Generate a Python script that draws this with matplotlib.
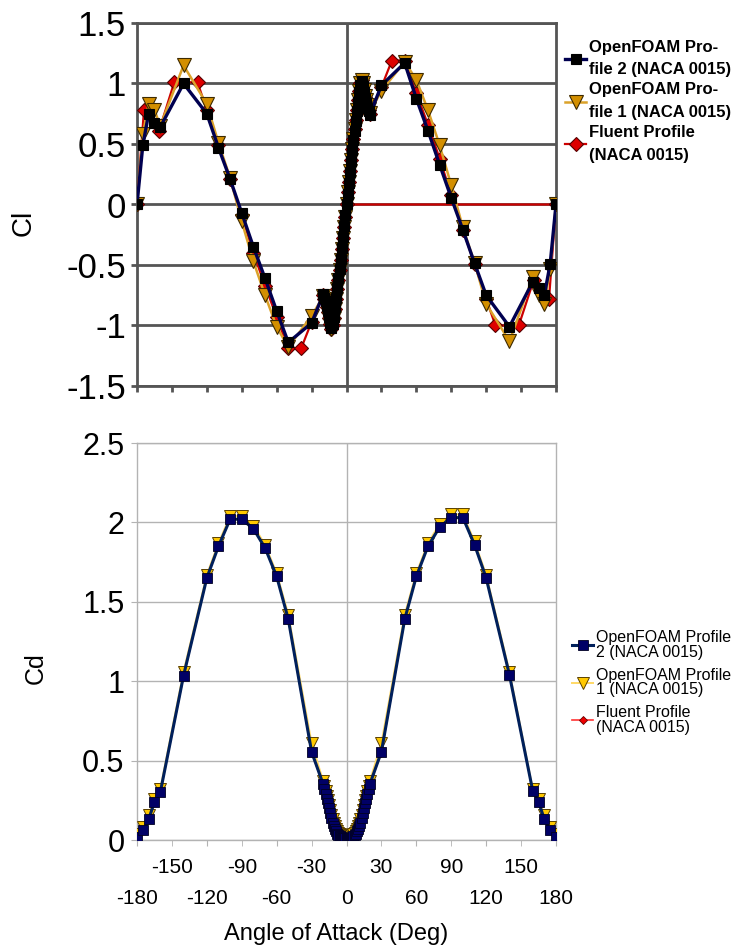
import numpy as np
import matplotlib.pyplot as plt

plt.rcParams['font.family'] = ['Liberation Sans', 'DejaVu Sans']
plt.rcParams['axes.unicode_minus'] = False

# Угол атаки (град) для профилей OpenFOAM
aoa_foam = [-180, -175, -170, -165, -160, -140, -120, -110, -100, -90, -80, -70, -60, -50, -30,
            -20, -19, -18, -17, -16, -15, -14, -13, -12, -11, -10, -9, -8, -7, -6, -5, -4, -3, -2, -1,
            0, 1, 2, 3, 4, 5, 6, 7, 8, 9, 10, 11, 12, 13, 14, 15, 16, 17, 18, 19, 20,
            30, 50, 60, 70, 80, 90, 100, 110, 120, 140, 160, 165, 170, 175, 180]

# Угол атаки для Fluent (последняя точка 0 дает горизонтальную линию)
aoa_fluent = [-180, -174, -161, -148, -128, -120, -110, -100, -90, -80, -70, -60, -50, -39, -30,
              -20, -19, -18, -17, -16, -15, -14, -13, -12, -11, -10, -9, -8, -7, -6, -5, -4, -3, -2, -1,
              0, 1, 2, 3, 4, 5, 6, 7, 8, 9, 10, 11, 12, 13, 14, 15, 16, 17, 18, 19, 20,
              30, 39, 50, 60, 70, 80, 90, 100, 110, 120, 128, 148, 161, 174, 180, 0]

cl_p2 = [0.0, 0.49, 0.75, 0.67, 0.64, 1.0, 0.75, 0.47, 0.21, -0.07, -0.35, -0.61, -0.88, -1.14, -0.98,
         -0.74, -0.77, -0.80, -0.84, -0.88, -0.93, -0.98, -1.02, -0.99, -0.93, -0.85, -0.77, -0.69,
         -0.61, -0.53, -0.45, -0.36, -0.27, -0.18, -0.09,
         0.0, 0.09, 0.18, 0.27, 0.36, 0.45, 0.53, 0.61, 0.69, 0.77, 0.85, 0.93, 0.99, 1.02, 0.98,
         0.93, 0.88, 0.84, 0.80, 0.77, 0.74,
         0.985, 1.17, 0.875, 0.61, 0.33, 0.055, -0.21, -0.485, -0.75, -1.01, -0.64, -0.69, -0.75, -0.49, 0.0]

cl_p1 = [0.0, 0.58, 0.83, 0.78, 0.65, 1.15, 0.83, 0.51, 0.22, -0.14, -0.47, -0.75, -1.01, -1.18, -0.92,
         -0.76, -0.79, -0.82, -0.86, -0.90, -0.95, -1.0, -1.03, -1.0, -0.94, -0.86, -0.78, -0.70,
         -0.62, -0.54, -0.46, -0.37, -0.28, -0.19, -0.10,
         0.0, 0.10, 0.19, 0.28, 0.37, 0.46, 0.54, 0.62, 0.70, 0.78, 0.86, 0.94, 1.0, 1.03, 1.0,
         0.95, 0.90, 0.86, 0.82, 0.79, 0.76,
         0.94, 1.18, 1.03, 0.78, 0.49, 0.16, -0.19, -0.48, -0.82, -1.13, -0.60, -0.745, -0.82, -0.53, 0.0]

cl_fluent = [0.0, 0.78, 0.61, 1.01, 1.01, 0.78, 0.49, 0.21, -0.09, -0.40, -0.67, -0.93, -1.19, -1.19, -0.97,
             -0.75, -0.78, -0.81, -0.85, -0.89, -0.94, -0.99, -1.03, -1.0, -0.94, -0.86, -0.78, -0.70,
             -0.62, -0.54, -0.46, -0.37, -0.28, -0.19, -0.10,
             0.0, 0.10, 0.19, 0.28, 0.37, 0.46, 0.54, 0.62, 0.70, 0.78, 0.86, 0.94, 1.0, 1.03, 0.99,
             0.94, 0.89, 0.85, 0.81, 0.78, 0.75,
             0.97, 1.19, 1.19, 0.92, 0.66, 0.38, 0.08, -0.21, -0.49, -0.78, -1.0, -1.0, -0.62, -0.78, 0.0, 0.0]

cd_p2 = [0.02, 0.06, 0.13, 0.24, 0.30, 1.035, 1.65, 1.85, 2.02, 2.02, 1.96, 1.84, 1.66, 1.39, 0.556,
         0.35, 0.32, 0.29, 0.26, 0.23, 0.20, 0.17, 0.14, 0.11, 0.09, 0.07, 0.055, 0.04, 0.03, 0.024,
         0.019, 0.015, 0.013, 0.011, 0.01,
         0.01, 0.01, 0.011, 0.013, 0.015, 0.019, 0.024, 0.03, 0.04, 0.055, 0.07, 0.09, 0.11, 0.14,
         0.17, 0.20, 0.23, 0.26, 0.29, 0.32, 0.35,
         0.556, 1.39, 1.66, 1.85, 1.97, 2.03, 2.03, 1.86, 1.65, 1.04, 0.31, 0.24, 0.13, 0.06, 0.02]

cd_p1 = [0.04, 0.08, 0.16, 0.26, 0.32, 1.06, 1.67, 1.87, 2.04, 2.04, 1.98, 1.86, 1.68, 1.42, 0.61,
         0.37, 0.34, 0.31, 0.28, 0.25, 0.22, 0.19, 0.16, 0.13, 0.11, 0.09, 0.07, 0.055, 0.045, 0.035,
         0.03, 0.025, 0.022, 0.02, 0.02,
         0.02, 0.02, 0.02, 0.022, 0.025, 0.03, 0.035, 0.045, 0.055, 0.07, 0.09, 0.11, 0.13, 0.16,
         0.19, 0.22, 0.25, 0.28, 0.31, 0.34, 0.37,
         0.61, 1.42, 1.68, 1.87, 1.99, 2.05, 2.05, 1.88, 1.67, 1.06, 0.32, 0.26, 0.16, 0.08, 0.04]

cd_fluent = [0.02, 0.06, 0.13, 0.24, 0.30, 1.03, 1.65, 1.85, 2.02, 2.02, 1.96, 1.84, 1.66, 1.39, 0.55,
             0.35, 0.32, 0.29, 0.26, 0.23, 0.20, 0.17, 0.14, 0.11, 0.09, 0.07, 0.055, 0.04, 0.03, 0.024,
             0.019, 0.015, 0.013, 0.011, 0.01,
             0.01, 0.01, 0.011, 0.013, 0.015, 0.019, 0.024, 0.03, 0.04, 0.055, 0.07, 0.09, 0.11, 0.14,
             0.17, 0.20, 0.23, 0.26, 0.29, 0.32, 0.35,
             0.55, 1.39, 1.66, 1.85, 1.97, 2.03, 2.03, 1.86, 1.65, 1.04, 0.31, 0.24, 0.13, 0.06, 0.02]

labels_top = ['OpenFOAM Pro-\nfile 2 (NACA 0015)', 'OpenFOAM Pro-\nfile 1 (NACA 0015)',
              'Fluent Profile\n(NACA 0015)']
labels_bottom = ['OpenFOAM Profile\n2 (NACA 0015)', 'OpenFOAM Profile\n1 (NACA 0015)',
                 'Fluent Profile\n(NACA 0015)']

fig = plt.figure(figsize=(7.39, 9.46), dpi=100)
ax1 = fig.add_axes([137 / 739, 1 - 386 / 946, 419 / 739, 363 / 946])
ax2 = fig.add_axes([137 / 739, 1 - 840 / 946, 419 / 739, 397 / 946])

# --- Cl ---
dark = '#555555'
ax1.plot(aoa_fluent, cl_fluent, '-', color='#cc0000', lw=1.6, marker='D', ms=7,
         mfc='#dd0000', mec='#550000', mew=0.8, label=labels_top[2], zorder=3)
ax1.plot(aoa_foam, cl_p1, '-', color='#dba22a', lw=1.8, marker='v', ms=10,
         mfc='#d38f00', mec='#3d2a00', mew=0.8, label=labels_top[1], zorder=4)
ax1.plot(aoa_foam, cl_p2, '-', color='#000050', lw=2.4, marker='s', ms=7,
         mfc='#000000', mec='#000000', mew=0.8, label=labels_top[0], zorder=5)

ax1.set_xlim(-180, 180)
ax1.set_ylim(-1.5, 1.5)
yt1 = [-1.5, -1.0, -0.5, 0.0, 0.5, 1.0, 1.5]
ax1.set_yticks(yt1)
ax1.set_yticklabels([f'{v:g}' for v in yt1], fontsize=25)
ax1.set_xticks(range(-180, 181, 30))
ax1.set_xticklabels([])
ax1.yaxis.grid(True, color=dark, lw=2)
ax1.axvline(0, color=dark, lw=2, zorder=1)
for s in ax1.spines.values():
    s.set_color(dark)
    s.set_linewidth(2)
ax1.tick_params(direction='out', length=4, width=2, color=dark, pad=4)
ax1.set_ylabel('Cl', fontsize=20)
ax1.yaxis.set_label_coords(-0.239, 0.45)

h, l = ax1.get_legend_handles_labels()
leg1 = fig.legend(h[::-1], l[::-1], loc='upper left', bbox_to_anchor=(558 / 739, 1 - 33 / 946),
                  frameon=False, prop={'weight': 'bold', 'size': 12},
                  handlelength=1.3, handletextpad=0.15, labelspacing=0.3, borderaxespad=0)
for t in leg1.get_texts():
    t.set_linespacing(1.65)

# --- Cd ---
light = '#b3b3b3'
ax2.plot(aoa_foam, cd_fluent, '-', color='#ff3333', lw=1.2, marker='D', ms=4.5,
         mfc='#ee0000', mec='#660000', mew=0.6, label=labels_bottom[2], zorder=3)
ax2.plot(aoa_foam, cd_p1, '-', color='#ffd966', lw=1.4, marker='v', ms=8,
         mfc='#ffc800', mec='#5a4000', mew=0.7, label=labels_bottom[1], zorder=4)
ax2.plot(aoa_foam, cd_p2, '-', color='#00205b', lw=2.2, marker='s', ms=6.5,
         mfc='#000066', mec='#000022', mew=0.6, label=labels_bottom[0], zorder=5)

ax2.set_xlim(-180, 180)
ax2.set_ylim(0, 2.5)
yt2 = [0, 0.5, 1.0, 1.5, 2.0, 2.5]
ax2.set_yticks(yt2)
ax2.set_yticklabels([f'{v:g}' for v in yt2], fontsize=22)
xt_low = [-180, -120, -60, 0, 60, 120, 180]
xt_up = [-150, -90, -30, 30, 90, 150]
ax2.set_xticks(xt_low)
ax2.set_xticklabels([str(v) for v in xt_low], fontsize=15)
ax2.set_xticks(xt_up, minor=True)
ax2.set_xticklabels([str(v) for v in xt_up], minor=True, fontsize=15)
ax2.yaxis.grid(True, color=light, lw=1)
ax2.axvline(0, color=light, lw=1, zorder=1)
for s in ax2.spines.values():
    s.set_color(light)
    s.set_linewidth(1)
ax2.tick_params(axis='y', direction='out', length=4, color=light, pad=5)
ax2.tick_params(axis='x', which='major', direction='out', length=4, color=light, pad=31)
ax2.tick_params(axis='x', which='minor', direction='out', length=4, color=light, pad=9)
ax2.set_ylabel('Cd', fontsize=18)
ax2.yaxis.set_label_coords(-0.212, 0.433)
ax2.set_xlabel('Angle of Attack (Deg)', fontsize=17)
ax2.xaxis.set_label_coords(0.475, -0.21)

h, l = ax2.get_legend_handles_labels()
leg2 = fig.legend(h[::-1], l[::-1], loc='upper left', bbox_to_anchor=(566 / 739, 1 - 624 / 946),
                  frameon=False, prop={'size': 11.5},
                  handlelength=1.3, handletextpad=0.15, labelspacing=0.5, borderaxespad=0)
for t in leg2.get_texts():
    t.set_linespacing(0.95)

fig.savefig('out.png', dpi=100)
